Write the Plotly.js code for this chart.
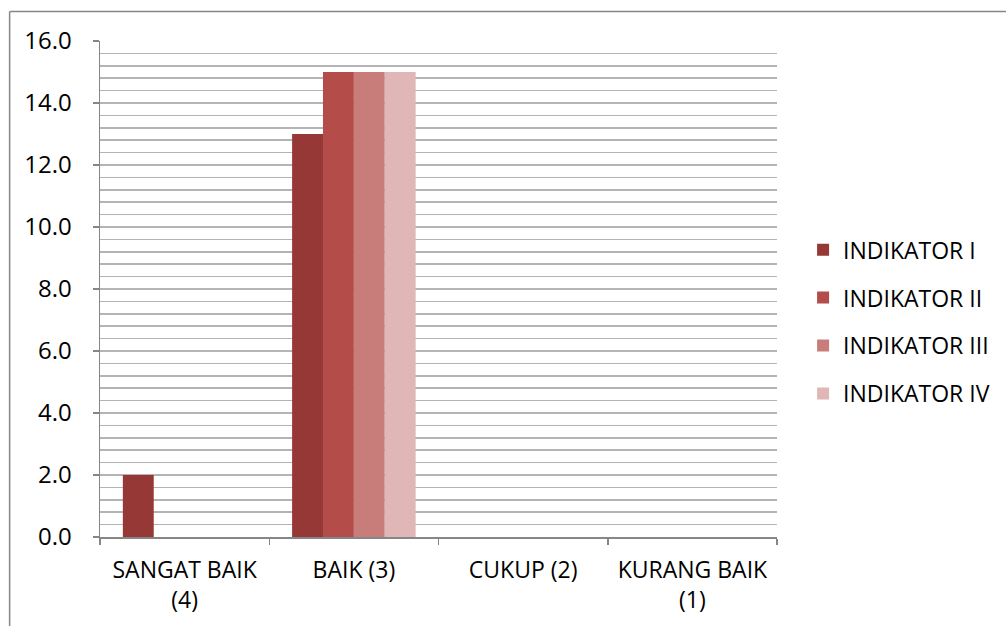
<!DOCTYPE html>
<html>
<head>
<meta charset="utf-8">
<script src="https://cdn.plot.ly/plotly-3.0.1.min.js"></script>
<style>
  html, body { margin: 0; padding: 0; background: #ffffff; }
  #chart { width: 1006px; height: 626px; }
</style>
</head>
<body>
<div id="chart"></div>
<script>
// Rating categories along the x axis
const categories = ['SANGAT BAIK<br>(4)', 'BAIK (3)', 'CUKUP (2)', 'KURANG BAIK<br>(1)'];

// Count per rating for each indicator
const indikatorI   = [2, 13, 0, 0];
const indikatorII  = [0, 15, 0, 0];
const indikatorIII = [0, 15, 0, 0];
const indikatorIV  = [0, 15, 0, 0];

const seriesNames  = ['INDIKATOR I', 'INDIKATOR II', 'INDIKATOR III', 'INDIKATOR IV'];
const seriesValues = [indikatorI, indikatorII, indikatorIII, indikatorIV];
const seriesColors = ['#953836', '#b44c49', '#c97d7b', '#e0b6b6'];

// Y axis tick labels
const yTickVals = [0, 2, 4, 6, 8, 10, 12, 14, 16];
const yTickText = ['0.0', '2.0', '4.0', '6.0', '8.0', '10.0', '12.0', '14.0', '16.0'];

const FONT = '"Open Sans", Lato, sans-serif';

const traces = seriesNames.map((name, i) => ({
  type: 'bar',
  name: name,
  x: categories,
  y: seriesValues[i],
  legendgroup: 'g' + i,
  marker: { color: seriesColors[i], line: { width: 0 } },
  hoverinfo: 'x+y+name'
}));

const layout = {
  width: 1006,
  height: 626,
  margin: { l: 100, r: 228, t: 41, b: 89 },
  paper_bgcolor: '#ffffff',
  plot_bgcolor: '#ffffff',
  font: { family: FONT, size: 23, color: '#000000' },
  barmode: 'group',
  bargap: 0.27,
  bargroupgap: 0,
  showlegend: true,
  legend: {
    x: 1.037, xanchor: 'left',
    y: 0.434, yanchor: 'middle',
    traceorder: 'grouped',
    tracegroupgap: 15,
    font: { family: FONT, size: 23, color: '#000000' },
    bgcolor: 'rgba(0,0,0,0)'
  },
  xaxis: {
    type: 'category',
    showline: true,
    linecolor: '#868686',
    linewidth: 1.5,
    ticks: 'outside',
    tickson: 'boundaries',
    ticklen: 6,
    tickcolor: '#868686',
    tickwidth: 1.5,
    ticklabelstandoff: 12,
    showgrid: false,
    tickfont: { family: FONT, size: 23, color: '#000000' },
    fixedrange: true
  },
  yaxis: {
    range: [0, 16],
    tickvals: yTickVals,
    ticktext: yTickText,
    showline: true,
    linecolor: '#868686',
    linewidth: 1.5,
    ticks: 'outside',
    ticklen: 6,
    tickcolor: '#868686',
    tickwidth: 1.5,
    ticklabelstandoff: 16,
    showgrid: true,
    gridcolor: '#b4b4b4',
    gridwidth: 1.5,
    zeroline: false,
    minor: {
      dtick: 0.4,
      tick0: 0,
      showgrid: true,
      gridcolor: '#b4b4b4',
      gridwidth: 1.5,
      ticks: ''
    },
    tickfont: { family: FONT, size: 24, color: '#000000' },
    fixedrange: true
  },
  shapes: [
    // chart frame: top and left edges
    { type: 'line', xref: 'paper', yref: 'paper',
      x0: -0.1335, x1: 1.5, y0: 1.0595, y1: 1.0595,
      line: { color: '#868686', width: 1.5 } },
    { type: 'line', xref: 'paper', yref: 'paper',
      x0: -0.1335, x1: -0.1335, y0: 1.0595, y1: -0.2,
      line: { color: '#868686', width: 1.5 } }
  ]
};

Plotly.newPlot('chart', traces, layout, { displayModeBar: false, staticPlot: true });
</script>
</body>
</html>
